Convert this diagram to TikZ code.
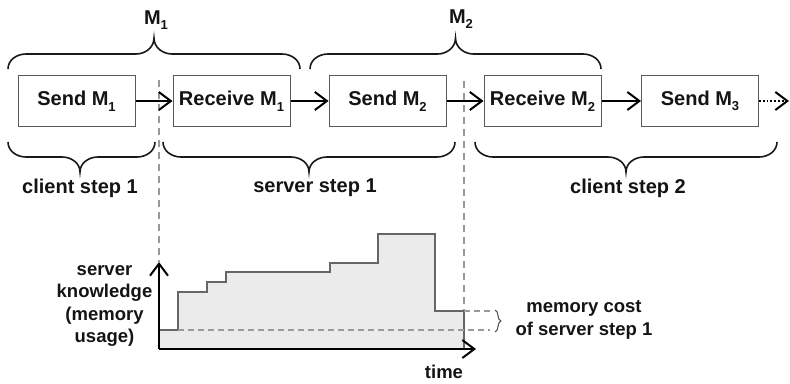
\documentclass[tikz,border=0pt]{standalone}
\usepackage{fontspec}
\setmainfont{Liberation Sans}
\usetikzlibrary{arrows.meta,decorations.pathreplacing}
\newcommand{\lowsub}[1]{\raisebox{-0.28em}{\fontsize{13}{13}\selectfont #1}}
\newcommand{\topbrace}[4]{%
  \draw[bracestyle] (#1,#4) to[out=90,in=180] ({#1+18},{#4-15}) -- ({#2-18},{#4-15})
    to[out=0,in=-90] (#2,{#4-31}) to[out=-90,in=180] ({#2+18},{#4-15})
    -- ({#3-18},{#4-15}) to[out=0,in=90] (#3,#4);}
\newcommand{\botbrace}[4]{%
  \draw[bracestyle] (#1,#4) to[out=-90,in=180] ({#1+18},{#4+15}) -- ({#2-18},{#4+15})
    to[out=0,in=90] (#2,{#4+30}) to[out=90,in=180] ({#2+18},{#4+15})
    -- ({#3-18},{#4+15}) to[out=0,in=-90] (#3,#4);}
\begin{document}
\begin{tikzpicture}[x=1pt,y=-1pt,
  every node/.style={font=\bfseries\fontsize{20}{24}\selectfont, text=black!92},
  stepbox/.style={draw=black!65, line width=1pt, fill=white, minimum width=117pt, minimum height=51pt, inner sep=0pt},
  flow/.style={line width=1.8pt, -{Straight Barb[length=12pt,width=18pt,line width=2pt]}},
  bracestyle/.style={line width=1.6pt, black!90},
  guide/.style={draw=black!40, line width=1.5pt, dash pattern=on 7pt off 5pt},
  smalltext/.style={font=\bfseries\fontsize{18.5}{22.5}\selectfont, align=center},
  axis/.style={line width=1.8pt, -{Straight Barb[length=12pt,width=18pt,line width=2pt]}}
]
\useasboundingbox (0,0) rectangle (790,383);

% vertical dashed guides
\coordinate (g1t) at (159,80);
\coordinate (g1b) at (159,262);
\coordinate (g2t) at (464,81);
\coordinate (g2b) at (464,349);
\draw[guide] (g1t) -- (g1b);
\draw[guide] (g2t) -- (g2b);

% boxes
\node[stepbox] (s1) at (76.5,101) {Send M\lowsub{1}};
\node[stepbox] (r1) at (231.5,101) {Receive M\lowsub{1}};
\node[stepbox] (s2) at (387.5,101) {Send M\lowsub{2}};
\node[stepbox] (r2) at (542.5,101) {Receive M\lowsub{2}};
\node[stepbox] (s3) at (700,101) {Send M\lowsub{3}};
\coordinate (cont) at (789,101);

\draw[flow] (s1) -- (r1);
\draw[flow] (r1) -- (s2);
\draw[flow] (s2) -- (r2);
\draw[flow] (r2) -- (s3);
\draw[flow, dotted, line width=1.6pt] (s3) -- (cont);

% top braces
\topbrace{8}{154}{300}{69}
\topbrace{310}{455.5}{601}{69}
\node (m1) at (156,20) {M\lowsub{1}};
\node (m2) at (461,19) {M\lowsub{2}};

% bottom braces
\botbrace{8}{80}{155}{142}
\botbrace{163}{309}{455}{142}
\botbrace{475}{626}{777}{142}
\node (c1) at (80,188) {client step 1};
\node (sv1) at (315,188) {server step 1};
\node (c2) at (628,188) {client step 2};

% chart
\fill[black!8] (159,349) -- (159,330) -- (178,330) -- (178,292) -- (207,292) -- (207,282) -- (226,282) -- (226,272) -- (330,272) -- (330,263) -- (378,263) -- (378,234) -- (435,234) -- (435,311) -- (464,311) -- (464,349) -- cycle;
\draw[black!60, line width=1.2pt] (159,330) -- (178,330) -- (178,292) -- (207,292) -- (207,282) -- (226,282) -- (226,272) -- (330,272) -- (330,263) -- (378,263) -- (378,234) -- (435,234) -- (435,311) -- (464,311) -- (464,349);
\coordinate (d1a) at (178,330);
\coordinate (d1b) at (490,330);
\coordinate (d2a) at (464,311);
\coordinate (d2b) at (490,311);
\draw[guide, line width=1.2pt, dash pattern=on 6pt off 4pt] (d1a) -- (d1b);
\draw[guide, line width=1.2pt, dash pattern=on 6pt off 4pt] (d2a) -- (d2b);
\coordinate (sb1) at (495,310);
\coordinate (sb2) at (495,332);
\draw[decorate, black!70, line width=1pt, decoration={brace, amplitude=6pt}] (sb1) -- (sb2);

\coordinate (o) at (159,349);
\coordinate (ytip) at (159,262);
\coordinate (xtip) at (476,349);
\draw[axis] (o) -- (ytip);
\draw[axis] (o) -- (xtip);

\node[smalltext] (yl) at (104.5,306) {server\\knowledge\\(memory\\usage)};
\node[smalltext] (tl) at (444,372) {time};
\node[smalltext, align=center] (mc) at (584,320) {memory cost\\of server step 1};
\end{tikzpicture}
\end{document}
